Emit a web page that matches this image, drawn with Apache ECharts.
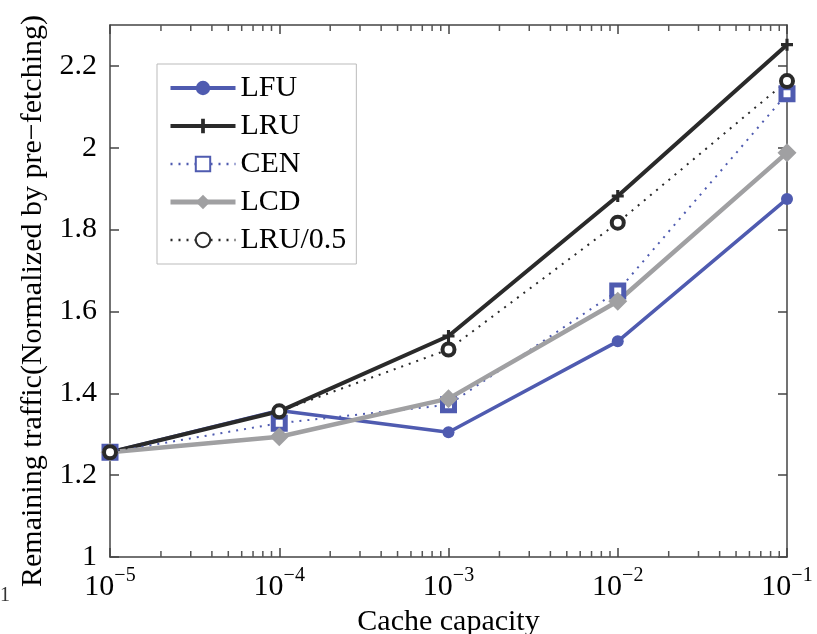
<!DOCTYPE html>
<html>
<head>
<meta charset="utf-8">
<script src="https://cdn.jsdelivr.net/npm/echarts@6/dist/echarts.min.js"></script>
<style>
  html, body { margin: 0; padding: 0; background: #fff; }
  #chart { width: 817px; height: 634px; }
</style>
</head>
<body>
<div id="chart"></div>
<script>
// cache capacities (x, log scale)
const capacity = [1e-5, 1e-4, 1e-3, 1e-2, 1e-1];

// remaining traffic, normalized by pre-fetching
const lfu   = [1.256, 1.358, 1.305, 1.527, 1.875];
const lru   = [1.256, 1.356, 1.540, 1.882, 2.252];
const cen   = [1.256, 1.327, 1.372, 1.650, 2.132];
const lcd   = [1.256, 1.294, 1.387, 1.625, 1.988];
const lru05 = [1.256, 1.356, 1.507, 1.817, 2.163];

const yTicks = [1, 1.2, 1.4, 1.6, 1.8, 2, 2.2];
const Y_MIN = 1, Y_MAX = 2.3;

// minor log ticks at 2..9 x 10^k
const minorTicks = [];
for (let k = -5; k <= -2; k++) {
  for (let m = 2; m <= 9; m++) minorTicks.push(m * Math.pow(10, k));
}

const FONT = 'Liberation Serif';
const AXIS = '#444';

function pairs(ys) {
  return capacity.map((x, i) => [x, ys[i]]);
}

const chart = echarts.init(document.getElementById('chart'));

const plusPath = 'path://M-1.3,-5 L1.3,-5 L1.3,-1.3 L5,-1.3 L5,1.3 L1.3,1.3 L1.3,5 L-1.3,5 L-1.3,1.3 L-5,1.3 L-5,-1.3 L-1.3,-1.3 Z';

// short inward tick at bottom and top frame for each minor value
function renderMinorTick(params, api) {
  const lo = api.coord([api.value(0), Y_MIN]);
  const hi = api.coord([api.value(0), Y_MAX]);
  const style = { stroke: '#555', lineWidth: 1.5 };
  return {
    type: 'group',
    children: [
      { type: 'line', shape: { x1: lo[0], y1: lo[1], x2: lo[0], y2: lo[1] - 6 }, style: style },
      { type: 'line', shape: { x1: hi[0], y1: hi[1], x2: hi[0], y2: hi[1] + 6 }, style: style }
    ]
  };
}

const option = {
  backgroundColor: '#ffffff',
  animation: false,
  textStyle: { fontFamily: FONT },
  grid: { left: 110, right: 30, top: 25, bottom: 77, outerBoundsMode: 'none' },
  legend: {
    orient: 'vertical',
    left: 157,
    top: 64,
    padding: [9, 10, 9, 11],
    itemWidth: 65,
    itemHeight: 18,
    itemGap: 8,
    backgroundColor: '#fff',
    borderColor: '#bbb',
    borderWidth: 1,
    borderRadius: 0,
    textStyle: { fontFamily: FONT, fontSize: 30, color: '#000' },
    data: [
      { name: 'LFU', lineStyle: { width: 4 } },
      { name: 'LRU', lineStyle: { width: 4 } },
      { name: 'CEN', lineStyle: { width: 2.5 } },
      { name: 'LCD', lineStyle: { width: 5 } },
      { name: 'LRU/0.5', lineStyle: { width: 2.5 } }
    ]
  },
  xAxis: [
    {
      type: 'log',
      logBase: 10,
      min: 1e-5,
      max: 1e-1,
      position: 'bottom',
      name: 'Cache capacity',
      nameLocation: 'middle',
      nameGap: 42,
      nameTextStyle: { fontFamily: FONT, fontSize: 30, color: '#000' },
      axisLine: { lineStyle: { color: AXIS, width: 1.5 } },
      axisTick: { show: true, inside: true, length: 9, lineStyle: { color: AXIS, width: 1.5 } },
      splitLine: { show: false },
      axisLabel: {
        margin: 9,
        formatter: function (v) {
          const e = Math.round(Math.log10(v));
          return '{b|10}{sup|' + (e < 0 ? '\u2212' + (-e) : e) + '}';
        },
        rich: {
          b: { fontFamily: FONT, fontSize: 30, color: '#000', verticalAlign: 'bottom', lineHeight: 36 },
          sup: { fontFamily: FONT, fontSize: 20, color: '#000', verticalAlign: 'top', lineHeight: 36 }
        }
      }
    },
    {
      type: 'log',
      logBase: 10,
      min: 1e-5,
      max: 1e-1,
      position: 'top',
      splitLine: { show: false },
      axisLabel: { show: false },
      axisLine: { show: true, lineStyle: { color: AXIS, width: 1.5 } },
      axisTick: { show: true, inside: true, length: 9, lineStyle: { color: AXIS, width: 1.5 } }
    }
  ],
  yAxis: [
    {
      type: 'value',
      min: Y_MIN,
      max: Y_MAX,
      interval: 0.2,
      position: 'left',
      name: 'Remaining traffic(Normalized by pre\u2212fetching)',
      nameLocation: 'middle',
      nameGap: 56,
      nameRotate: 90,
      nameTextStyle: { fontFamily: FONT, fontSize: 30, color: '#000', padding: [0, 20, 0, 0] },
      axisLine: { show: true, lineStyle: { color: AXIS, width: 1.5 } },
      axisTick: { show: true, inside: true, length: 9, customValues: yTicks, lineStyle: { color: AXIS, width: 1.5 } },
      splitLine: { show: false },
      axisLabel: {
        margin: 13,
        fontFamily: FONT,
        fontSize: 30,
        color: '#000',
        customValues: yTicks,
        formatter: function (v) { return String(Math.round(v * 10) / 10); }
      }
    },
    {
      type: 'value',
      min: Y_MIN,
      max: Y_MAX,
      interval: 0.2,
      position: 'right',
      axisLine: { show: true, lineStyle: { color: AXIS, width: 1.5 } },
      axisTick: { show: true, inside: true, length: 9, customValues: yTicks, lineStyle: { color: AXIS, width: 1.5 } },
      splitLine: { show: false },
      axisLabel: { show: false }
    }
  ],
  series: [
    {
      name: 'minor',
      type: 'custom',
      silent: true,
      z: 3,
      clip: false,
      data: minorTicks.map(v => [v, Y_MIN]),
      encode: { x: 0, y: 1 },
      renderItem: renderMinorTick
    },
    {
      name: 'LFU',
      type: 'line',
      data: pairs(lfu),
      symbol: 'circle',
      symbolSize: 12,
      lineStyle: { color: '#4f5bb0', width: 3.5 },
      itemStyle: { color: '#4f5bb0' }
    },
    {
      name: 'LRU',
      type: 'line',
      data: pairs(lru),
      symbol: plusPath,
      symbolSize: 12,
      lineStyle: { color: '#2a2a2a', width: 4 },
      itemStyle: { color: '#2a2a2a' }
    },
    {
      name: 'CEN',
      type: 'line',
      data: pairs(cen),
      symbol: 'rect',
      symbolSize: 12,
      lineStyle: { color: '#4f5bb0', width: 2, type: [2, 6] },
      itemStyle: { color: '#ffffff', borderColor: '#4f5bb0', borderWidth: 5 }
    },
    {
      name: 'LCD',
      type: 'line',
      data: pairs(lcd),
      symbol: 'diamond',
      symbolSize: 19,
      lineStyle: { color: '#a0a0a2', width: 4.5 },
      itemStyle: { color: '#a0a0a2' }
    },
    {
      name: 'LRU/0.5',
      type: 'line',
      data: pairs(lru05),
      symbol: 'circle',
      symbolSize: 12,
      lineStyle: { color: '#2a2a2a', width: 2, type: [2, 6] },
      itemStyle: { color: '#ffffff', borderColor: '#2a2a2a', borderWidth: 4 }
    }
  ],
  graphic: [
    {
      type: 'text',
      left: 0,
      top: 586,
      style: { text: '1', fontFamily: FONT, fontSize: 20, fill: '#333' }
    }
  ]
};

chart.setOption(option);
</script>
</body>
</html>
